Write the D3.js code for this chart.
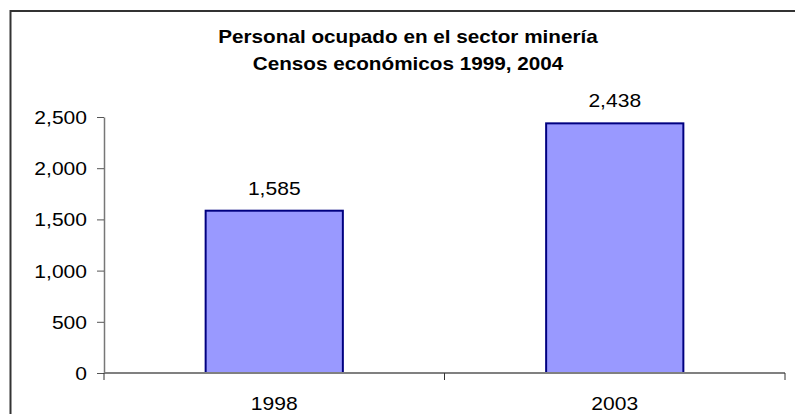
<!DOCTYPE html>
<html>
<head>
<meta charset="utf-8">
<script src="https://cdn.jsdelivr.net/npm/d3@7"></script>
<style>
  body { margin: 0; background: #fff; }
  text { font-family: "Liberation Sans", Arial, sans-serif; }
</style>
</head>
<body>
<div id="chart"></div>
<script>
// chart data
var years = ["1998", "2003"];
var personal = [1585, 2438];
var yTicks = [0, 500, 1000, 1500, 2000, 2500];
var titleLines = ["Personal ocupado en el sector minería", "Censos económicos 1999, 2004"];

var W = 795, H = 414;
var margin = {top: 117, right: 10, bottom: 41, left: 104},
    width = W - margin.left - margin.right,
    height = H - margin.top - margin.bottom;

// the original picture is a bit wider than tall, so text is stretched
var SX = 1.17;

var svg = d3.select("#chart").append("svg")
    .attr("width", W)
    .attr("height", H);

// outer frame (runs off the right/bottom edges)
svg.append("rect")
    .attr("x", 10.5).attr("y", 11)
    .attr("width", W).attr("height", H)
    .attr("fill", "none")
    .attr("stroke", "#333")
    .attr("stroke-width", 2);

// title
svg.selectAll(".title")
    .data(titleLines)
  .enter().append("text")
    .attr("class", "title")
    .attr("transform", function(d, i) { return "translate(408," + (43 + i * 27) + ") scale(" + SX + ",1)"; })
    .attr("text-anchor", "middle")
    .style("font-size", "17.7px")
    .style("font-weight", "bold")
    .text(function(d) { return d; });

var g = svg.append("g")
    .attr("transform", "translate(" + margin.left + "," + margin.top + ")");

var x = d3.scaleBand().domain(years).range([0, width]).padding(0);
var y = d3.scaleLinear().domain([0, 2500]).range([height, 0]);
var fmt = d3.format(",");

var barW = x.bandwidth() * 0.403;

// bars
g.selectAll(".bar")
    .data(personal)
  .enter().append("rect")
    .attr("class", "bar")
    .attr("x", function(d, i) { return x(years[i]) + (x.bandwidth() - barW) / 2; })
    .attr("y", function(d) { return y(d); })
    .attr("width", barW)
    .attr("height", function(d) { return y(0) - y(d); })
    .attr("fill", "#9999ff")
    .attr("stroke", "#000080")
    .attr("stroke-width", 2);

// value labels
g.selectAll(".val")
    .data(personal)
  .enter().append("text")
    .attr("class", "val")
    .attr("transform", function(d, i) {
      return "translate(" + (x(years[i]) + x.bandwidth() / 2) + "," + (y(d) - 16) + ") scale(" + SX + ",1)";
    })
    .attr("text-anchor", "middle")
    .style("font-size", "18px")
    .text(function(d) { return fmt(d); });

// y axis
var yAxis = d3.axisLeft(y).tickValues(yTicks).tickFormat(fmt).tickSize(7).tickSizeOuter(0);
var ya = g.append("g").call(yAxis);
ya.select(".domain").attr("stroke", "#777").attr("stroke-width", 1.5);
ya.selectAll(".tick line").attr("stroke", "#555");
ya.selectAll("text")
    .attr("x", -17 / SX)
    .attr("dy", "0.36em")
    .attr("transform", "scale(" + SX + ",1)")
    .attr("fill", "#000")
    .style("font-size", "18px")
    .style("font-family", "Liberation Sans, Arial, sans-serif");

// x axis: ticks between categories
var xa = g.append("g").attr("transform", "translate(0," + height + ")");
xa.append("line")
    .attr("x1", 0).attr("x2", width)
    .attr("stroke", "#808080")
    .attr("stroke-width", 2);
xa.selectAll(".sep")
    .data(years.concat(["end"]))
  .enter().append("line")
    .attr("class", "sep")
    .attr("x1", function(d, i) { return i < years.length ? x(d) : width; })
    .attr("x2", function(d, i) { return i < years.length ? x(d) : width; })
    .attr("y1", 0).attr("y2", 7)
    .attr("stroke", "#333");
xa.selectAll(".lab")
    .data(years)
  .enter().append("text")
    .attr("class", "lab")
    .attr("transform", function(d) { return "translate(" + (x(d) + x.bandwidth() / 2) + ",37) scale(" + SX + ",1)"; })
    .attr("text-anchor", "middle")
    .style("font-size", "18px")
    .text(function(d) { return d; });
</script>
</body>
</html>
